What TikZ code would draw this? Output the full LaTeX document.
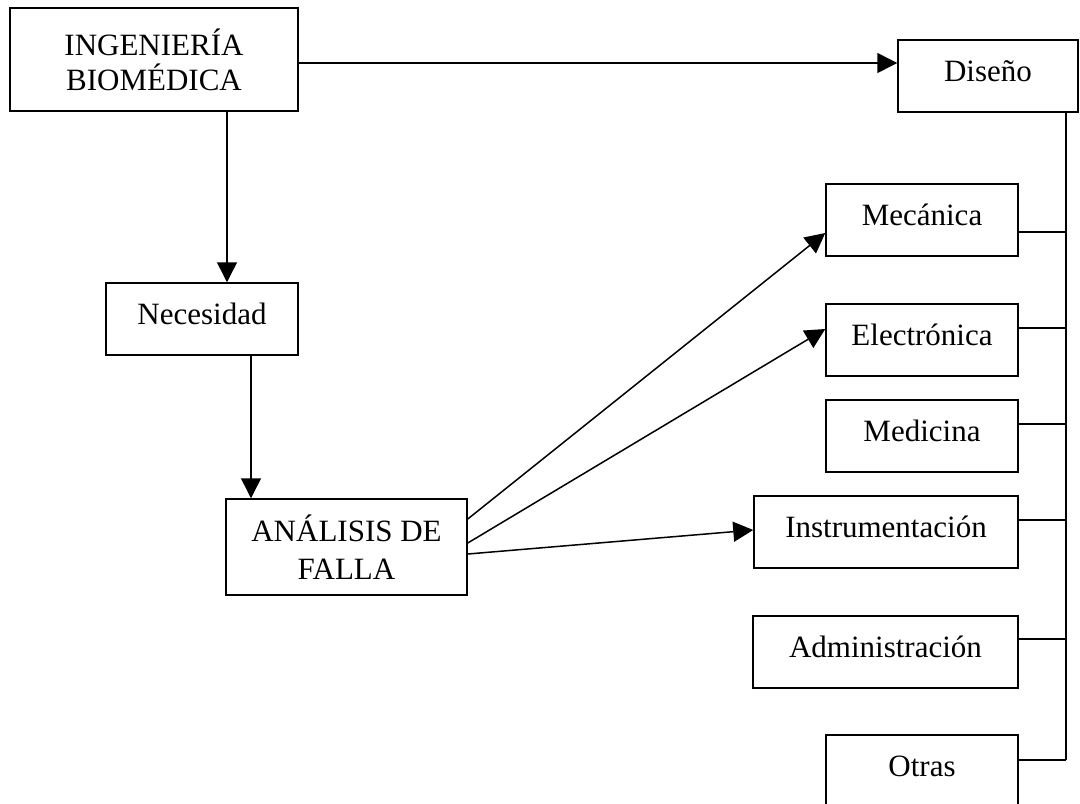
\documentclass[tikz,border=0pt]{standalone}
\usepackage{fontspec}
\setmainfont{Liberation Serif}
\usetikzlibrary{arrows.meta}

\begin{document}
\begin{tikzpicture}[x=0.5pt,y=-0.5pt,line width=0.75pt,
                >={Triangle[length=10pt,width=10pt]},
                box/.style={draw,inner sep=0pt,align=center,font=\fontsize{15.5}{17.5}\selectfont},
                tag/.style={box,text depth=5pt,minimum height=36pt}]
  \useasboundingbox (0,0) rectangle (1080,803);
  \clip (0,0) rectangle (1080,803);

  \node[box,minimum width=144pt,minimum height=51.5pt] (ing) at (154,59.5) {INGENIERÍA\\BIOMÉDICA};
  \node[tag,minimum width=90pt] (dis) at (988,76) {Diseño};
  \node[tag,minimum width=96pt] (nec) at (202,319) {Necesidad};
  \node[box,font=\fontsize{15.5}{19}\selectfont,minimum width=120.5pt,minimum height=48pt] (ana) at (346.5,547) {ANÁLISIS DE\\FALLA};

  \node[tag,minimum width=96pt] (mec) at (922,220) {Mecánica};
  \node[tag,minimum width=96pt] (ele) at (922,340) {Electrónica};
  \node[tag,minimum width=96pt] (med) at (922,436) {Medicina};
  \node[tag,minimum width=132pt] (ins) at (886,532) {Instrumentación};
  \node[tag,minimum width=132.5pt] (adm) at (885.5,652) {Administración};
  \node[tag,minimum width=96pt] (otr) at (922,771) {Otras};

  % bus on the right
  \coordinate (b1) at (1066,232);
  \coordinate (b2) at (1066,328);
  \coordinate (b3) at (1066,424);
  \coordinate (b4) at (1066,520);
  \coordinate (b5) at (1066,639);
  \coordinate (b6) at (1066,760);
  \draw (dis.south -| b6) -- (b6);
  \foreach \n/\b in {mec/b1,ele/b2,med/b3,ins/b4,adm/b5,otr/b6}
    \draw (\n.east |- \b) -- (\b);

  \draw[->] ([yshift=-1.75pt]ing.east) -- ([yshift=-1.75pt]ing.east -| dis.west);
  \draw[->] ([xshift=36.5pt]ing.south) -- ([xshift=36.5pt]ing.south |- nec.north);
  \draw[->] ([xshift=24.5pt]nec.south) -- ([xshift=24.5pt]nec.south |- ana.north);
  \draw[->] ([yshift=14pt]ana.east) -- ([yshift=-6.5pt]mec.west);
  \draw[->] ([yshift=2pt]ana.east) -- ([yshift=5.5pt]ele.west);
  \draw[->] ([yshift=-3.5pt]ana.east) -- ([yshift=1pt]ins.west);
\end{tikzpicture}
\end{document}
